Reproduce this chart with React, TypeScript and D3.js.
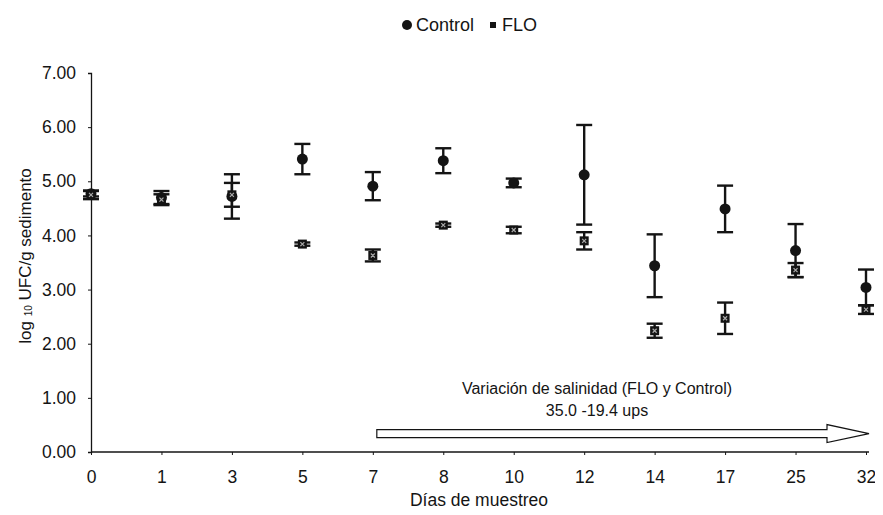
import React, { useEffect, useRef } from "react";
import * as d3 from "d3";

// sampling days (categorical axis)
const days = ["0", "1", "3", "5", "7", "8", "10", "12", "14", "17", "25", "32"];

// log10 UFC/g sediment, mean and error (+/-)
const controlMean = [4.77, 4.7, 4.72, 5.41, 4.91, 5.38, 4.97, 5.12, 3.44, 4.49, 3.72, 3.04];
const controlErr = [0.05, 0.12, 0.41, 0.28, 0.26, 0.23, 0.08, 0.92, 0.58, 0.43, 0.49, 0.33];
const floMean = [4.75, 4.66, 4.75, 3.84, 3.63, 4.19, 4.1, 3.9, 2.24, 2.47, 3.36, 2.63];
const floErr = [0.08, 0.1, 0.22, 0.03, 0.11, 0.03, 0.06, 0.16, 0.13, 0.29, 0.13, 0.08];

const yTicks = [0, 1, 2, 3, 4, 5, 6, 7];

const width = 883,
  height = 515;

const App = () => {
  const ref = useRef<SVGSVGElement | null>(null);

  useEffect(() => {
    const svg = d3.select(ref.current);
    svg.selectAll("*").remove();

    const ink = "#141414";
    const font = "Arial, 'Liberation Sans', sans-serif";

    const x = d3.scalePoint<string>().domain(days).range([91, 866]);
    const y = d3.scaleLinear().domain([0, 7]).range([452, 73]);

    // axes
    const yAxis = svg
      .append("g")
      .attr("transform", "translate(91,0)")
      .call(
        d3
          .axisLeft(y)
          .tickValues(yTicks)
          .tickFormat(d3.format(".2f"))
          .tickSize(3)
          .tickPadding(12)
      );
    yAxis.select(".domain").attr("stroke", ink).attr("stroke-width", 1.3);
    yAxis.selectAll("line").attr("stroke", ink);
    yAxis
      .selectAll("text")
      .attr("font-size", 17.5)
      .attr("font-family", font)
      .attr("fill", ink);

    const xAxis = svg
      .append("g")
      .attr("transform", "translate(0,452)")
      .call(d3.axisBottom(x).tickSize(3).tickPadding(16));
    xAxis
      .select(".domain")
      .attr("d", `M91,0H869`)
      .attr("stroke", ink)
      .attr("stroke-width", 1.3);
    xAxis.selectAll("line").attr("stroke", ink);
    xAxis
      .selectAll("text")
      .attr("font-size", 17.5)
      .attr("font-family", font)
      .attr("fill", ink);

    // axis titles
    svg
      .append("text")
      .attr("transform", "translate(25,256) rotate(-90)")
      .attr("text-anchor", "middle")
      .attr("dominant-baseline", "central")
      .attr("font-size", 17)
      .attr("font-family", font)
      .attr("fill", ink)
      .html('log <tspan font-size="10" dy="3">10</tspan><tspan dy="-3"> UFC/g sedimento</tspan>');

    svg
      .append("text")
      .attr("x", 479)
      .attr("y", 500)
      .attr("text-anchor", "middle")
      .attr("dominant-baseline", "central")
      .attr("font-size", 17.5)
      .attr("font-family", font)
      .attr("fill", ink)
      .text("Días de muestreo");

    // salinity annotation + arrow
    svg
      .append("text")
      .attr("x", 597)
      .attr("y", 388)
      .attr("text-anchor", "middle")
      .attr("dominant-baseline", "central")
      .attr("font-size", 16)
      .attr("font-family", font)
      .attr("fill", ink)
      .text("Variación de salinidad (FLO y Control)");
    svg
      .append("text")
      .attr("x", 597)
      .attr("y", 410)
      .attr("text-anchor", "middle")
      .attr("dominant-baseline", "central")
      .attr("font-size", 16)
      .attr("font-family", font)
      .attr("fill", ink)
      .text("35.0 -19.4 ups");

    const ax0 = (x("7") as number) + 4,
      ax1 = (x("32") as number) + 3,
      ay = y(0.34);
    const arrow = [
      [ax0, ay - 4],
      [ax1 - 42, ay - 4],
      [ax1 - 42, ay - 9],
      [ax1, ay],
      [ax1 - 42, ay + 9],
      [ax1 - 42, ay + 4],
      [ax0, ay + 4],
    ] as [number, number][];
    svg
      .append("path")
      .attr("d", d3.line()(arrow) + "Z")
      .attr("fill", "#fff")
      .attr("stroke", ink)
      .attr("stroke-width", 1.2);

    // error bars
    const drawErr = (mean: number[], err: number[]) => {
      const g = svg.append("g").attr("stroke", ink).attr("stroke-width", 2.4);
      days.forEach((d, i) => {
        const cx = x(d) as number;
        const top = y(mean[i] + err[i]);
        const bot = y(mean[i] - err[i]);
        g.append("line").attr("x1", cx).attr("x2", cx).attr("y1", top).attr("y2", bot);
        g.append("line").attr("x1", cx - 8).attr("x2", cx + 8).attr("y1", top).attr("y2", top);
        g.append("line").attr("x1", cx - 8).attr("x2", cx + 8).attr("y1", bot).attr("y2", bot);
      });
    };
    drawErr(controlMean, controlErr);
    drawErr(floMean, floErr);

    // control markers
    svg
      .append("g")
      .selectAll("circle")
      .data(controlMean)
      .enter()
      .append("circle")
      .attr("cx", (d, i) => x(days[i]) as number)
      .attr("cy", (d) => y(d))
      .attr("r", 5.5)
      .attr("fill", ink);

    // FLO markers (dark square with a light speck)
    const flo = svg
      .append("g")
      .selectAll("g")
      .data(floMean)
      .enter()
      .append("g")
      .attr("transform", (d, i) => `translate(${x(days[i])},${y(d)})`);
    flo.append("rect").attr("x", -4.5).attr("y", -4.5).attr("width", 9).attr("height", 9).attr("fill", ink);
    flo.append("path").attr("d", "M-2,-2L2,2M2,-2L-2,2").attr("stroke", "#aaa").attr("stroke-width", 1.2);

    // legend
    const lg = svg.append("g").attr("transform", "translate(407,25)");
    lg.append("circle").attr("r", 5).attr("fill", ink);
    lg.append("text")
      .attr("x", 9)
      .attr("dominant-baseline", "central")
      .attr("font-size", 18)
      .attr("font-family", font)
      .attr("fill", ink)
      .text("Control");
    lg.append("rect").attr("x", 83).attr("y", -3).attr("width", 6).attr("height", 6).attr("fill", ink);
    lg.append("text")
      .attr("x", 95)
      .attr("dominant-baseline", "central")
      .attr("font-size", 18)
      .attr("font-family", font)
      .attr("fill", ink)
      .text("FLO");
  }, []);

  return (
    <div>
      <svg
        ref={ref}
        width={width}
        height={height}
        style={{ display: "block", margin: -8, overflow: "visible" }}
      ></svg>
    </div>
  );
};

export default App;
